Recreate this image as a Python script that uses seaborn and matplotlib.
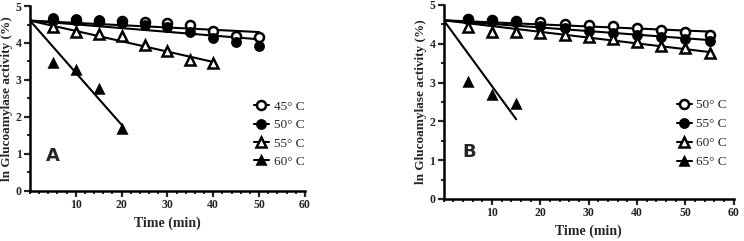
import numpy as np
import pandas as pd
import seaborn as sns
import matplotlib
matplotlib.use("Agg")
import matplotlib.pyplot as plt
from matplotlib.lines import Line2D
from matplotlib.ticker import MultipleLocator

sns.set_theme(style="ticks")
plt.rcParams['font.family'] = ['Liberation Serif', 'DejaVu Serif']

# ---- Data: panel A ----
time_a = [5, 10, 15, 20, 25, 30, 35, 40, 45, 50]
a_45 = [4.62, 4.62, 4.60, 4.60, 4.56, 4.53, 4.48, 4.33, 4.18, 4.17]
a_50 = [4.67, 4.65, 4.62, 4.55, 4.49, 4.44, 4.31, 4.13, 4.02, 3.93]
a_55 = [4.44, 4.29, 4.23, 4.19, 3.95, 3.78, 3.54, 3.45]
a_60 = [3.45, 3.27, 2.75, 1.67]
labels_a = ["45° C", "50° C", "55° C", "60° C"]

# ---- Data: panel B ----
time_b = [5, 10, 15, 20, 25, 30, 35, 40, 45, 50, 55]
b_50 = [4.64, 4.61, 4.59, 4.55, 4.52, 4.49, 4.46, 4.40, 4.36, 4.30, 4.23]
b_55 = [4.65, 4.60, 4.55, 4.45, 4.40, 4.33, 4.28, 4.22, 4.17, 4.12, 4.07]
b_60 = [4.44, 4.31, 4.31, 4.27, 4.23, 4.17, 4.12, 4.04, 3.95, 3.90, 3.76]
b_65 = [3.02, 2.68, 2.45]
labels_b = ["50° C", "55° C", "60° C", "65° C"]

LN100 = np.log(100.0)

styles = [
    dict(marker="o", mfc="white", ms=6.5),
    dict(marker="o", mfc="black", ms=6.0),
    dict(marker="^", mfc="white", ms=7.0),
    dict(marker="^", mfc="black", ms=6.0),
]


def draw_panel(ax, times, series, labels, letter, letter_pos, legend_anchor, spacing):
    handles = []
    for vals, lab, st in zip(series, labels, styles):
        t = np.array(times[:len(vals)], dtype=float)
        y = np.array(vals, dtype=float)
        # first-order fit through ln(100) at t=0
        k = np.sum(t * (LN100 - y)) / np.sum(t * t)
        tl = np.array([0.0, t[-1]])
        yl = LN100 - k * tl
        sns.lineplot(x=tl, y=yl, ax=ax, color="black", lw=1.5, zorder=2)
        df = pd.DataFrame({"t": t, "y": y})
        ax.plot(df["t"], df["y"], linestyle="none", marker=st["marker"],
                ms=st["ms"], mfc=st["mfc"], mec="black", mew=1.8, zorder=3)
        handles.append(Line2D([0], [0], color="black", lw=1.5, marker=st["marker"],
                              ms=st["ms"], mfc=st["mfc"], mec="black", mew=1.8))
    ax.set_xlim(0, 60)
    ax.set_ylim(0, 5)
    ax.xaxis.set_minor_locator(MultipleLocator(2))
    ax.yaxis.set_minor_locator(MultipleLocator(0.5))
    ax.set_xticks([10, 20, 30, 40, 50, 60])
    ax.set_xticklabels(["10", "20", "30", "40", "50", "60"], fontweight="bold", fontsize=8.5)
    ax.set_yticks([0, 1, 2, 3, 4, 5])
    ax.set_yticklabels(["0", "1", "2", "3", "4", "5"], fontweight="bold", fontsize=8.5)
    ax.tick_params(axis="both", which="major", direction="out", length=4, width=1.6, pad=2)
    ax.tick_params(axis="both", which="minor", direction="out", length=2.5, width=1.4)
    for s in ["left", "bottom"]:
        ax.spines[s].set_linewidth(1.8)
        ax.spines[s].set_color("black")
    sns.despine(ax=ax)
    ax.set_xlabel("Time (min)", fontweight="bold", fontsize=10, labelpad=4)
    ax.set_ylabel("ln Glucoamylase activity (%)", fontweight="bold", fontsize=9.5, labelpad=2)
    ax.text(letter_pos[0], letter_pos[1], letter, fontsize=13, fontweight="bold",
            family=["DejaVu Sans"], transform=ax.transData, va="center", ha="left")
    ax.legend(handles, labels, loc="upper left", bbox_to_anchor=legend_anchor,
              frameon=False, fontsize=9.5, handlelength=1.15, handletextpad=0.35,
              labelspacing=spacing, borderpad=0)
    ax.set_facecolor("white")


fig = plt.figure(figsize=(7.44, 2.41), dpi=100)
ax1 = fig.add_axes([0.0403, 0.2075, 0.3696, 0.7676])
ax2 = fig.add_axes([0.5964, 0.1743, 0.3898, 0.805])

draw_panel(ax1, time_a, [a_45, a_50, a_55, a_60], labels_a, "A", (3.5, 0.95),
           (0.79, 0.525), 0.47)
draw_panel(ax2, time_b, [b_50, b_55, b_60, b_65], labels_b, "B", (3.9, 1.2),
           (0.78, 0.55), 0.52)

fig.savefig("out.png", dpi=100, facecolor="white")
